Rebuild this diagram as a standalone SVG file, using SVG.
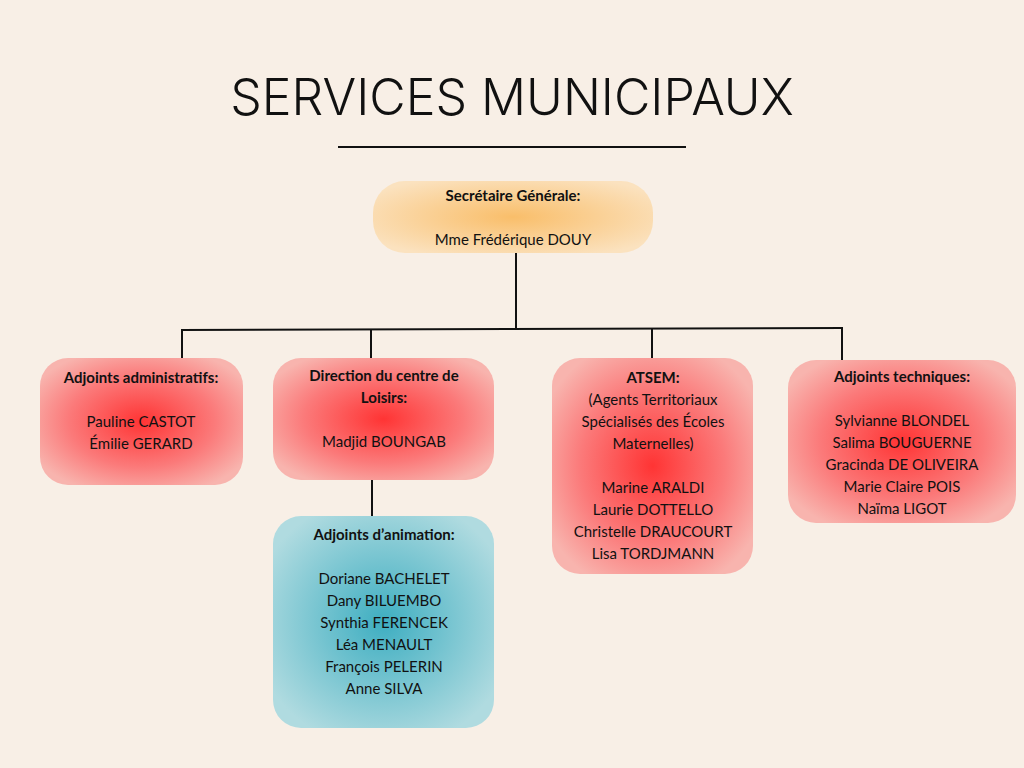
<svg xmlns="http://www.w3.org/2000/svg" width="1024" height="768" viewBox="0 0 1024 768">
<defs>
<radialGradient id="gRed" cx="50%" cy="50%" r="60%"><stop offset="0" stop-color="#ff3434"/><stop offset="0.6" stop-color="#fb7a7a"/><stop offset="1" stop-color="#f8b4ae"/></radialGradient>
<radialGradient id="gOr" cx="50%" cy="50%" r="60%"><stop offset="0" stop-color="#f9be6a"/><stop offset="1" stop-color="#fbe2bf"/></radialGradient>
<radialGradient id="gTeal" cx="50%" cy="50%" r="60%"><stop offset="0" stop-color="#3eaec1"/><stop offset="1" stop-color="#b0dbe0"/></radialGradient>
<style>
text{font-family:Lato,"Open Sans","Liberation Sans",sans-serif;font-size:15px;fill:#111;text-anchor:middle}
.b{font-weight:bold}
.c line{stroke:#111;stroke-width:2}
</style>
</defs>
<rect width="1024" height="768" fill="#f8efe6"/>
<text x="512" y="115" style="font-size:50px;font-weight:300;font-family:Inter,Lato,sans-serif" fill="#000">SERVICES MUNICIPAUX</text>
<line x1="338" y1="147" x2="686" y2="147" stroke="#111" stroke-width="2"/>
<g class="c">
<line x1="516" y1="253" x2="516" y2="329"/>
<line x1="181" y1="330" x2="843" y2="328"/>
<line x1="182" y1="330" x2="182" y2="358"/>
<line x1="371" y1="330" x2="371" y2="358"/>
<line x1="652" y1="329" x2="652" y2="358"/>
<line x1="842" y1="328" x2="842" y2="360"/>
<line x1="372" y1="480" x2="372" y2="516"/>
</g>
<g id="sg"><rect x="373" y="181" width="280" height="72" rx="32" fill="url(#gOr)"/>
<text x="513" y="201" class="b">Secrétaire Générale:</text><text x="513" y="245">Mme Frédérique DOUY</text></g>
<g id="adm"><rect x="40" y="358" width="203" height="127" rx="28" fill="url(#gRed)"/>
<text x="141" y="383" class="b">Adjoints administratifs:</text><text x="141" y="427">Pauline CASTOT</text><text x="141" y="449">Émilie GERARD</text></g>
<g id="dir"><rect x="273" y="358" width="221" height="122" rx="28" fill="url(#gRed)"/>
<text x="384" y="381" class="b">Direction du centre de</text><text x="384" y="403" class="b">Loisirs:</text><text x="384" y="447">Madjid BOUNGAB</text></g>
<g id="atsem"><rect x="552" y="358" width="201" height="216" rx="28" fill="url(#gRed)"/>
<text x="653" y="383" class="b">ATSEM:</text><text x="653" y="405">(Agents Territoriaux</text><text x="653" y="427">Spécialisés des Écoles</text><text x="653" y="449">Maternelles)</text>
<text x="653" y="493">Marine ARALDI</text><text x="653" y="515">Laurie DOTTELLO</text><text x="653" y="537">Christelle DRAUCOURT</text><text x="653" y="559">Lisa TORDJMANN</text></g>
<g id="tech"><rect x="788" y="360" width="228" height="163" rx="28" fill="url(#gRed)"/>
<text x="902" y="382" class="b">Adjoints techniques:</text><text x="902" y="426">Sylvianne BLONDEL</text><text x="902" y="448">Salima BOUGUERNE</text><text x="902" y="470">Gracinda DE OLIVEIRA</text><text x="902" y="492">Marie Claire POIS</text><text x="902" y="514">Naïma LIGOT</text></g>
<g id="anim"><rect x="273" y="516" width="221" height="212" rx="28" fill="url(#gTeal)"/>
<text x="384" y="540" class="b">Adjoints d’animation:</text><text x="384" y="584">Doriane BACHELET</text><text x="384" y="606">Dany BILUEMBO</text><text x="384" y="628">Synthia FERENCEK</text><text x="384" y="650">Léa MENAULT</text><text x="384" y="672">François PELERIN</text><text x="384" y="694">Anne SILVA</text></g>
</svg>
